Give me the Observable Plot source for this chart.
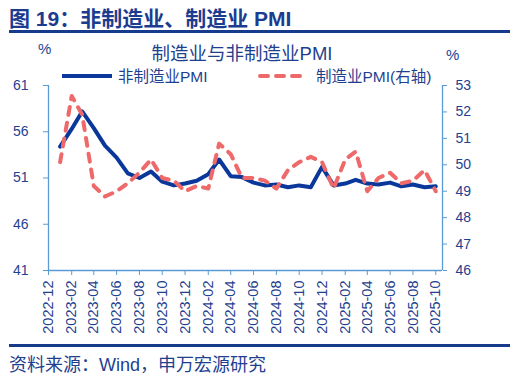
<!DOCTYPE html>
<html><head><meta charset="utf-8">
<script src="https://cdn.jsdelivr.net/npm/d3@7"></script>
<script src="https://cdn.jsdelivr.net/npm/@observablehq/plot@0.6"></script>
<style>
body{margin:0;background:#fff;}
#wrap{position:relative;width:514px;height:379px;overflow:hidden;font-family:"Liberation Sans","Noto Sans CJK SC",sans-serif;color:#1F3F8F;}
#wrap svg.plot{position:absolute;left:0;top:0;}
.t{position:absolute;white-space:nowrap;line-height:1;}
.rule{position:absolute;left:9px;width:501px;height:3px;background:#163A8C;}
</style></head><body><div id="wrap"></div>
<script>
const months = ["2023-01","2023-02","2023-03","2023-04","2023-05","2023-06","2023-07","2023-08","2023-09","2023-10","2023-11","2023-12",
"2024-01","2024-02","2024-03","2024-04","2024-05","2024-06","2024-07","2024-08","2024-09","2024-10","2024-11","2024-12",
"2025-01","2025-02","2025-03","2025-04","2025-05","2025-06","2025-07","2025-08","2025-09","2025-10"];
const nonMfg = [54.4,56.3,58.2,56.4,54.5,53.2,51.5,51.0,51.7,50.6,50.2,50.4,
50.7,51.4,53.0,51.2,51.1,50.5,50.2,50.3,50.0,50.2,50.0,52.2,
50.2,50.4,50.8,50.4,50.3,50.5,50.1,50.3,50.0,50.1];
const mfg = [50.1,52.6,51.9,49.2,48.8,49.0,49.3,49.7,50.2,49.5,49.4,49.0,
49.2,49.1,50.8,50.4,49.5,49.5,49.4,49.1,49.8,50.1,50.3,50.1,
49.1,50.2,50.5,49.0,49.5,49.7,49.3,49.4,49.8,49.0];
const xTickLabels = ["2022-12","2023-02","2023-04","2023-06","2023-08","2023-10","2023-12","2024-02","2024-04","2024-06","2024-08","2024-10","2024-12","2025-02","2025-04","2025-06","2025-08","2025-10"];
const leftTicks = [41,46,51,56,61];
const rightTicks = [46,47,48,49,50,51,52,53];

const textColor = "#1F3F8F";
const axisColor = "#5B9BD5";
const blue = "#0A389A";
const red = "#EE6A6A";
const font = '"Liberation Sans","Noto Sans CJK SC",sans-serif';

// right axis (46–53) mapped onto left axis (41–61)
const toLeft = r => 41 + (r - 46) * 20 / 7;
const fromLeft = l => 46 + (l - 41) * 7 / 20;

const parse = d3.utcParse("%Y-%m");
const data = months.map((m, i) => ({date: parse(m), non: nonMfg[i], mfg: mfg[i]}));
const xStart = parse(xTickLabels[0]);
const xEnd = new Date(Date.UTC(2025, 9, 19));

const chart = Plot.plot({
  width: 514, height: 379,
  marginLeft: 48, marginRight: 72, marginTop: 85, marginBottom: 109,
  style: {fontFamily: font, fontSize: "14px", color: textColor, background: "transparent", overflow: "visible"},
  x: {type: "utc", domain: [xStart, xEnd]},
  y: {domain: [41, 61]},
  marks: [
    Plot.ruleX([xStart], {stroke: axisColor, strokeWidth: 1.3}),
    Plot.ruleX([xEnd], {stroke: axisColor, strokeWidth: 1.3}),
    Plot.ruleY([41], {stroke: axisColor, strokeWidth: 1.3}),
    Plot.axisY(leftTicks, {anchor: "left", tickSize: 5, tickPadding: 15, stroke: axisColor, fill: textColor, fontSize: 14, label: null}),
    Plot.axisY(rightTicks.map(toLeft), {anchor: "right", tickSize: 4, tickPadding: 9, stroke: axisColor, fill: textColor, fontSize: 14, label: null, tickFormat: d => String(Math.round(fromLeft(d)))}),
    Plot.axisX(xTickLabels.map(parse), {anchor: "bottom", tickSize: 5, tickPadding: 5, tickRotate: -90, stroke: axisColor, fill: textColor, fontSize: 14.5, label: null, tickFormat: d3.utcFormat("%Y-%m")}),
    Plot.lineY(data, {x: "date", y: "non", stroke: blue, strokeWidth: 4}),
    Plot.lineY(data, {x: "date", y: d => toLeft(d.mfg), stroke: red, strokeWidth: 4, strokeDasharray: "8,8", strokeLinecap: "round"})
  ]
});
chart.classList.add("plot");
const wrap = document.getElementById("wrap");
wrap.appendChild(chart);

wrap.insertAdjacentHTML("beforeend", `
<div class="t" style="left:9px;top:8px;font-size:21px;font-weight:bold;color:#1C3C90;">图 19：非制造业、制造业 PMI</div>
<div class="rule" style="top:30px;"></div>
<div class="t" style="left:0;width:484px;top:45px;font-size:18.5px;text-align:center;">制造业与非制造业PMI</div>
<div class="t" style="left:38px;top:41px;font-size:15px;">%</div>
<div class="t" style="left:446px;top:47px;font-size:15px;">%</div>
<svg style="position:absolute;left:0;top:0;" width="514" height="379">
  <line x1="62" x2="112" y1="76" y2="76" stroke="${blue}" stroke-width="4"/>
  <line x1="260" x2="308" y1="76" y2="76" stroke="${red}" stroke-width="4" stroke-dasharray="8,8" stroke-linecap="round"/>
</svg>
<div class="t" style="left:118px;top:69px;font-size:15.5px;">非制造业PMI</div>
<div class="t" style="left:316px;top:69px;font-size:15.5px;">制造业PMI(右轴)</div>
<div class="rule" style="top:344px;"></div>
<div class="t" style="left:9px;top:356px;font-size:18px;">资料来源：Wind，申万宏源研究</div>
`);
</script>
</body></html>
